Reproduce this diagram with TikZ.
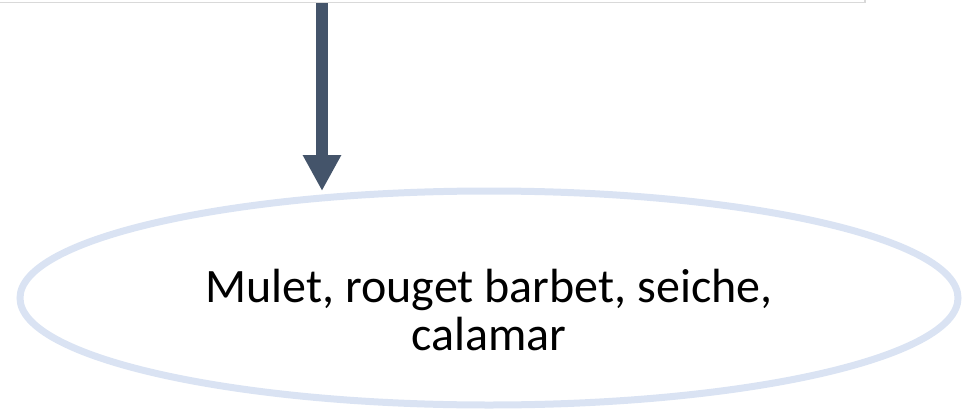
\documentclass[tikz,border=0pt]{standalone}
\usepackage{fontspec}
\setmainfont{Carlito}
\usetikzlibrary{shapes.geometric,arrows.meta}
\definecolor{slate}{HTML}{44546A}
\definecolor{paleblue}{HTML}{DAE3F3}
\definecolor{boxgray}{HTML}{D9D9D9}
\begin{document}
\begin{tikzpicture}[x=1pt,y=1pt,
    topbox/.style={draw=boxgray,line width=1.5pt,fill=white,minimum width=880pt,minimum height=60pt,inner sep=0pt},
    fishes/.style={ellipse,draw=paleblue,line width=7pt,minimum width=938pt,minimum height=214pt,inner sep=0pt},
    fishtext/.style={align=center,inner sep=0pt,font=\fontsize{48}{48}\selectfont},
    flow/.style={draw=slate,line width=12pt,-{Triangle[width=36pt,length=36pt]}}]
  \useasboundingbox (0,0) rectangle (963,408);
  \node[topbox] (top) at (425,435.5) {};
  \node[fishes] (catch) at (489,110) {};
  \node[fishtext,yshift=-12pt] (catchtext) at (catch) {Mulet, rouget barbet, seiche,\\ calamar};
  \coordinate (tip) at (322,217);
  \begin{scope}
    \draw[flow] (top.south -| tip) to (tip);
  \end{scope}
\end{tikzpicture}
\end{document}
